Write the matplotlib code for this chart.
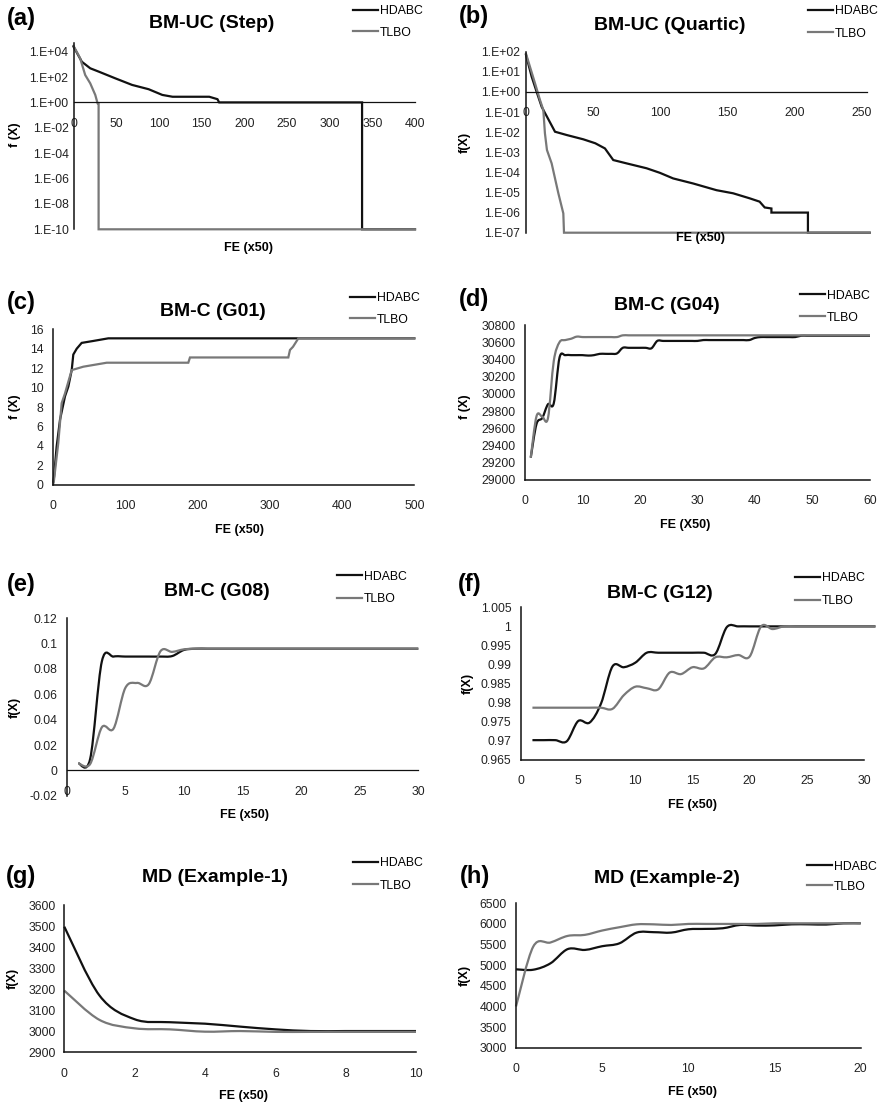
import numpy as np
import matplotlib
matplotlib.use("Agg")
import matplotlib.pyplot as plt
from matplotlib.path import Path
from matplotlib.patches import PathPatch
from matplotlib.lines import Line2D
from matplotlib.ticker import FixedLocator, FuncFormatter, NullLocator

plt.rcParams['font.family'] = ['Liberation Sans', 'DejaVu Sans']

W, H = 884, 1107
BLACK = '#111111'
GRAY = '#787878'
names = ['HDABC', 'TLBO']

# ---- (a) BM-UC (Step) ----
step_hd_x = [0, 9.8, 19.6, 29.4, 49, 68.6, 88, 104, 116, 159, 168.6, 170.6, 338, 338, 400]
step_hd_y = [2.5e4, 1.6e3, 4.9e2, 2.7e2, 7.9e1, 2.4e1, 1.1e1, 3.9, 2.8, 2.8, 1.8, 1.0, 1.0, 1e-10, 1e-10]
step_tl_x = [0, 7.8, 13.7, 19.6, 25.5, 28.2, 29.4, 29.4, 400]
step_tl_y = [2.9e4, 3.0e3, 1.45e2, 3.2e1, 3.9, 0.85, 0.8, 1e-10, 1e-10]

# ---- (b) BM-UC (Quartic) ----
quart_hd_x = [0, 4.2, 7.9, 11.7, 15.6, 21.6, 30.3, 42.7, 51.6, 58.8, 65, 74.9, 89.8, 99.7,
              109.6, 124.5, 141.9, 154.3, 166.7, 174, 177.8, 182.8, 182.8, 210, 210, 256]
quart_hd_y = [69, 5.8, 1.02, 0.18, 0.059, 0.0105, 7.2e-3, 4.4e-3, 2.8e-3, 1.55e-3, 4.1e-4, 2.8e-4,
              1.6e-4, 9.5e-5, 5e-5, 2.8e-5, 1.3e-5, 9.1e-6, 5.1e-6, 3.5e-6, 1.8e-6, 1.6e-6, 1e-6,
              1e-6, 1e-7, 1e-7]
quart_tl_x = [0, 6.7, 10.4, 12.9, 14.1, 15.6, 19.1, 24.1, 27.8, 28.3, 256]
quart_tl_y = [79, 2.7, 0.4, 0.126, 8.7e-3, 1.3e-3, 2.8e-4, 9.1e-6, 9.1e-7, 1e-7, 1e-7]

# ---- (c) BM-C (G01) ----
g01_hd_x = [0, 1, 4.6, 9.3, 16.2, 20.8, 25.5, 27.7, 32.4, 39.3, 55.4, 76.2, 500]
g01_hd_y = [0.3, 0.8, 3.9, 6.7, 9.1, 10.1, 11.8, 13.4, 14.0, 14.6, 14.8, 15.07, 15.07]
g01_tl_x = [0, 1, 6.9, 11.6, 16.2, 20.8, 25.5, 41.6, 74, 187, 189.3, 325.5, 327.8, 332, 339.4, 500]
g01_tl_y = [0.1, 0.5, 4.3, 8.4, 9.4, 10.6, 11.8, 12.15, 12.56, 12.56, 13.1, 13.1, 13.87, 14.2, 15.07, 15.07]

# ---- (d) BM-C (G04) ----
g04_x = list(range(1, 61))
g04_hd = ([29260, 29650, 29720, 29880, 29890, 30420, 30450, 30450, 30450, 30450, 30445, 30450,
           30465, 30465, 30465, 30470, 30535, 30535, 30535, 30535, 30535, 30530]
          + [30615] * 8 + [30625] * 9 + [30650] + [30660] * 7 + [30675] * 13)
g04_tl = ([29260, 29740, 29735, 29720, 30380, 30600, 30625, 30640, 30665, 30660, 30660, 30660,
           30660, 30660, 30660, 30660] + [30680] * 44)

# ---- (e) BM-C (G08) ----
g08_x = list(range(1, 31))
g08_hd = [0.0055, 0.009, 0.086, 0.0898, 0.0898, 0.0898, 0.0898, 0.0898, 0.0902, 0.095] + [0.096] * 20
g08_tl = [0.0055, 0.005, 0.034, 0.033, 0.065, 0.069, 0.068, 0.094, 0.0935, 0.0955] + [0.096] * 20

# ---- (f) BM-C (G12) ----
g12_x = list(range(1, 32))
g12_hd = [0.9702, 0.9702, 0.9702, 0.9699, 0.9752, 0.9748, 0.9798, 0.9895, 0.9893, 0.9905,
          0.9931, 0.9931, 0.9931, 0.9931, 0.9931, 0.9931, 0.9928, 0.9998] + [1.0] * 13
g12_tl = [0.9787] * 7 + [0.9784, 0.9820, 0.9842, 0.9838, 0.9835, 0.9879, 0.9875, 0.9893, 0.9890,
                         0.9919, 0.9919, 0.9925, 0.9921, 1.0, 0.9993] + [1.0] * 9

# ---- (g) MD (Example-1) ----
md1_x = list(range(0, 11))
md1_hd = [3497, 3170, 3057, 3043, 3036, 3022, 3009, 3001, 3001, 3001, 3001]
md1_tl = [3193, 3054, 3014, 3009, 2998, 3001, 2997, 2997, 2997, 2997, 2997]

# ---- (h) MD (Example-2) ----
md2_x = list(range(0, 21))
md2_hd = [4900, 4890, 5045, 5390, 5370, 5460, 5530, 5790, 5800, 5790, 5870, 5880, 5895, 5975,
          5960, 5965, 5990, 5990, 5985, 6015, 6015]
md2_tl = [4000, 5450, 5550, 5710, 5735, 5840, 5920, 5990, 5990, 5975, 6000, 6000, 6000, 6000,
          6000, 6015, 6015, 6015, 6015, 6015, 6015]


def smooth_path(x, y):
    # Excel-style smoothed line: cubic Bezier segments through the points
    pts = np.column_stack([x, y]).astype(float)
    n = len(pts)
    verts = [pts[0]]
    codes = [Path.MOVETO]
    for i in range(n - 1):
        p0 = pts[max(i - 1, 0)]
        p1 = pts[i]
        p2 = pts[i + 1]
        p3 = pts[min(i + 2, n - 1)]
        verts += [p1 + (p2 - p0) / 6, p2 - (p3 - p1) / 6, p2]
        codes += [Path.CURVE4] * 3
    return Path(verts, codes)


def fx(px):
    return px / W


def fy(py):
    return 1 - py / H


fig = plt.figure(figsize=(W / 100, H / 100), dpi=100)

panels = [
    dict(tag='(a)', title='BM-UC (Step)', box=(73.5, 43.3, 415, 229.3), xlim=(0, 400),
         ylim=(1e-10, 10 ** 4.66), log=True, yticks=[10.0 ** e for e in range(-10, 5, 2)],
         xticks=range(0, 401, 50), cross=1.0, tagpos=(21, 18), tpos=(212, 23), leg=(353, 11, 32),
         xl=('FE (x50)', 248, 248), yl=('f (X)', 15, 135), ypad=3.6,
         series=(step_hd_x, step_hd_y, step_tl_x, step_tl_y), smooth=False),
    dict(tag='(b)', title='BM-UC (Quartic)', box=(526, 51.7, 867, 232.7), xlim=(0, 254),
         ylim=(1e-7, 1e2), log=True, yticks=[10.0 ** e for e in range(-7, 3)],
         xticks=range(0, 251, 50), cross=1.0, tagpos=(474, 17), tpos=(670, 25), leg=(808, 11, 33),
         xl=('FE (x50)', 700, 238), yl=('f(X)', 465, 142), ypad=4.3,
         series=(quart_hd_x, quart_hd_y, quart_tl_x, quart_tl_y), smooth=False),
    dict(tag='(c)', title='BM-C (G01)', box=(53.3, 329.3, 414.3, 484.7), xlim=(0, 500),
         ylim=(0, 16), log=False, yticks=range(0, 17, 2), xticks=range(0, 501, 100), cross=None,
         tagpos=(21, 302), tpos=(213, 312), leg=(350, 298, 319),
         xl=('FE (x50)', 240, 530), yl=('f (X)', 15, 407), ypad=7,
         series=(g01_hd_x, g01_hd_y, g01_tl_x, g01_tl_y), smooth=False),
    dict(tag='(d)', title='BM-C (G04)', box=(525, 325, 870, 480), xlim=(0, 60),
         ylim=(29000, 30800), log=False, yticks=range(29000, 30801, 200), xticks=range(0, 61, 10),
         cross=None, tagpos=(474, 300), tpos=(667, 305), leg=(800, 295.7, 317),
         xl=('FE (X50)', 685, 525), yl=('f (X)', 465, 407), ypad=6.5,
         series=(g04_x, g04_hd, g04_x, g04_tl), smooth=True),
    dict(tag='(e)', title='BM-C (G08)', box=(66.7, 618.3, 418.3, 795.7), xlim=(0, 30),
         ylim=(-0.02, 0.12), log=False, yticks=[-0.02, 0, 0.02, 0.04, 0.06, 0.08, 0.1, 0.12],
         xticks=range(0, 31, 5), cross=0.0, tagpos=(21, 585), tpos=(216.7, 591.7),
         leg=(336.7, 576.7, 598.3), xl=('FE (x50)', 245, 815), yl=('f(X)', 15, 707), ypad=6.8,
         series=(g08_x, g08_hd, g08_x, g08_tl), smooth=True),
    dict(tag='(f)', title='BM-C (G12)', box=(521, 607.3, 864, 760), xlim=(0, 30),
         ylim=(0.965, 1.005), log=False,
         yticks=[0.965, 0.97, 0.975, 0.98, 0.985, 0.99, 0.995, 1.0, 1.005],
         xticks=range(0, 31, 5), cross=None, tagpos=(470, 585), tpos=(660, 593),
         leg=(795, 578, 600.7), xl=('FE (x50)', 692, 805), yl=('f(X)', 468, 683), ypad=7,
         series=(g12_x, g12_hd, g12_x, g12_tl), smooth=True),
    dict(tag='(g)', title='MD (Example-1)', box=(64.3, 905, 416, 1052.3), xlim=(0, 10),
         ylim=(2900, 3600), log=False, yticks=range(2900, 3601, 100), xticks=range(0, 11, 2),
         cross=None, tagpos=(21, 876), tpos=(215, 878), leg=(353, 863.3, 885),
         xl=('FE (x50)', 243, 1096), yl=('f(X)', 13, 978), ypad=6,
         series=(md1_x, md1_hd, md1_x, md1_tl), smooth=True),
    dict(tag='(h)', title='MD (Example-2)', box=(516, 903.3, 860.7, 1047.7), xlim=(0, 20),
         ylim=(3000, 6500), log=False, yticks=range(3000, 6501, 500), xticks=range(0, 21, 5),
         cross=None, tagpos=(475, 876), tpos=(666.7, 878.3), leg=(806.7, 866.7, 886),
         xl=('FE (x50)', 692, 1091.7), yl=('f(X)', 465, 975), ypad=6.7,
         series=(md2_x, md2_hd, md2_x, md2_tl), smooth=True),
]

for p in panels:
    l, t, r, b = p['box']
    ax = fig.add_axes([fx(l), fy(b), (r - l) / W, (b - t) / H])
    if p['log']:
        ax.set_yscale('log')
    ax.set_xlim(*p['xlim'])
    ax.set_ylim(*p['ylim'])
    ax.set_facecolor('none')

    hx, hy, tx, ty = p['series']
    for xs, ys, col in ((hx, hy, BLACK), (tx, ty, GRAY)):
        if p['smooth']:
            ax.add_patch(PathPatch(smooth_path(xs, ys), facecolor='none', edgecolor=col,
                                   lw=1.6, clip_on=False, capstyle='butt', joinstyle='round'))
        else:
            ax.plot(xs, ys, color=col, lw=1.6, clip_on=False, solid_joinstyle='miter')

    for s in ('top', 'right'):
        ax.spines[s].set_visible(False)
    for s in ('left', 'bottom'):
        ax.spines[s].set_linewidth(1.1)
        ax.spines[s].set_color('#111111')
    if p['cross'] is not None:
        ax.spines['bottom'].set_position(('data', p['cross']))
        ax.spines['bottom'].set_linewidth(0.9)

    ax.xaxis.set_major_locator(FixedLocator(list(p['xticks'])))
    ax.yaxis.set_major_locator(FixedLocator(list(p['yticks'])))
    ax.xaxis.set_minor_locator(NullLocator())
    ax.yaxis.set_minor_locator(NullLocator())
    if p['log']:
        ax.yaxis.set_major_formatter(FuncFormatter(
            lambda v, _: "1.E{:+03d}".format(int(round(np.log10(v))))))
    else:
        ax.yaxis.set_major_formatter(FuncFormatter(lambda v, _: "{:g}".format(round(v, 4))))
    ax.xaxis.set_major_formatter(FuncFormatter(lambda v, _: "{:g}".format(v)))
    ax.tick_params(axis='x', length=0, pad=11, labelsize=8.8, colors='#222222')
    ax.tick_params(axis='y', length=0, pad=p['ypad'], labelsize=8.8, colors='#222222')

    # legend outside the plot, top right
    lx, y1, y2 = p['leg']
    handles = [Line2D([], [], color=BLACK, lw=1.6), Line2D([], [], color=GRAY, lw=1.6)]
    ax.legend(handles, names, loc='upper left', bbox_to_anchor=(fx(lx), fy(y1 - 6)),
              bbox_transform=fig.transFigure, frameon=False, fontsize=8.8, borderpad=0,
              borderaxespad=0, handlelength=2.05, handletextpad=0.15,
              labelspacing=(y2 - y1 - 11.5) / 12.2)

    fig.text(fx(p['tagpos'][0]), fy(p['tagpos'][1]), p['tag'], fontsize=17, fontweight='bold',
             ha='center', va='center')
    fig.text(fx(p['tpos'][0]), fy(p['tpos'][1]), p['title'], fontsize=14, fontweight='bold',
             ha='center', va='center')
    xt, xxp, xyp = p['xl']
    fig.text(fx(xxp), fy(xyp), xt, fontsize=9, fontweight='bold', ha='center', va='center')
    yt, yxp, yyp = p['yl']
    fig.text(fx(yxp), fy(yyp), yt, fontsize=9, fontweight='bold', ha='center', va='center',
             rotation=90)

fig.savefig('out.png', dpi=100)
